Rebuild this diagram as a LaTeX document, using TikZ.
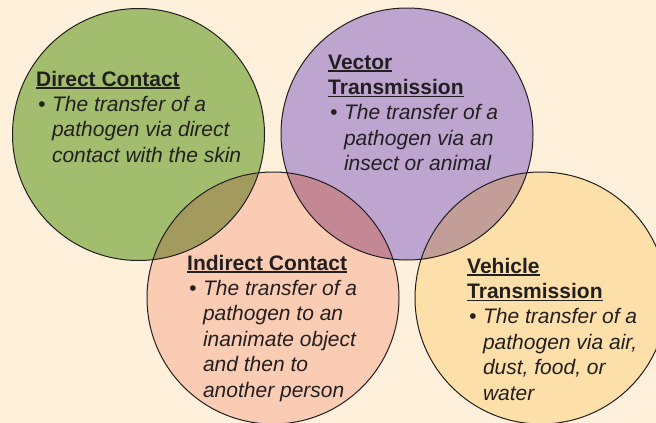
\documentclass[tikz,border=0pt]{standalone}
\usepackage{fontspec}
\usepackage{array}
\setmainfont{Liberation Sans}
\definecolor{bg}{HTML}{FEF0DB}
\definecolor{cgreen}{HTML}{A3BD6E}
\definecolor{cpurple}{HTML}{BEA5CF}
\definecolor{cpink}{HTML}{FBCCB4}
\definecolor{cyellow}{HTML}{FDDFAA}
\definecolor{cgp}{HTML}{A39A5E}
\definecolor{cpp}{HTML}{C38893}
\definecolor{cpy}{HTML}{C39E98}
\definecolor{txt}{HTML}{231F20}
\newcommand\ulx[1]{\setbox0\hbox{#1}\rlap{\rule[-2.8pt]{\wd0}{1.4pt}}\box0}
\newcommand\ttlrow[1]{\multicolumn{2}{@{}l@{}}{\bfseries\ulx{#1}}}
\newenvironment{blk}{\begin{tabular}[t]{@{\hspace{2pt}}>{\itshape}l@{\hspace{6.5pt}}>{\itshape}l@{}}}{\end{tabular}}
\tikzset{
  ring/.style={draw=txt, line width=1pt},
  txtblock/.style={anchor=base west, inner sep=0pt, text=txt,
    font=\fontsize{21}{25.4}\selectfont},
}
\begin{document}
\begin{tikzpicture}[x=1pt, y=-1pt]
\useasboundingbox (0,0) rectangle (656,423);
\fill[bg] (0,0) rectangle (656,423);
\begin{scope}
\clip (0,0) rectangle (656,423);
\coordinate (cG) at (138.5,134.5);
\coordinate (cV) at (407,134);
\coordinate (cI) at (273,298);
\coordinate (cH) at (541,298);
\fill[cgreen] (cG) circle[radius=126pt];
\fill[cpurple] (cV) circle[radius=126pt];
\fill[cpink] (cI) circle[radius=126pt];
\fill[cyellow] (cH) circle[radius=126pt];
\begin{scope}
\clip (cI) circle[radius=126pt];
\fill[cgp] (cG) circle[radius=126pt];
\fill[cpp] (cV) circle[radius=126pt];
\end{scope}
\begin{scope}
\clip (cH) circle[radius=126pt];
\fill[cpy] (cV) circle[radius=126pt];
\end{scope}
\draw[ring] (cG) circle[radius=126pt];
\draw[ring] (cV) circle[radius=126pt];
\draw[ring] (cI) circle[radius=126pt];
\draw[ring] (cH) circle[radius=126pt];
\end{scope}

\node[txtblock] (direct) at (36,86) {\begin{blk}
\ttlrow{Direct Contact}\\
\textbullet & The transfer of a\\
 & pathogen via direct\\
 & contact with the skin
\end{blk}};

\node[txtblock] (vector) at (328,69) {\begin{blk}
\ttlrow{Vector}\\
\ttlrow{Transmission}\\
\textbullet & The transfer of a\\
 & pathogen via an\\
 & insect or animal
\end{blk}};

\node[txtblock] (indirect) at (187,270) {\begin{blk}
\ttlrow{Indirect Contact}\\
\textbullet & The transfer of a\\
 & pathogen to an\\
 & inanimate object\\
 & and then to\\
 & another person
\end{blk}};

\node[txtblock] (vehicle) at (467,273) {\begin{blk}
\ttlrow{Vehicle}\\
\ttlrow{Transmission}\\
\textbullet & The transfer of a\\
 & pathogen via air,\\
 & dust, food, or\\
 & water
\end{blk}};
\end{tikzpicture}
\end{document}
